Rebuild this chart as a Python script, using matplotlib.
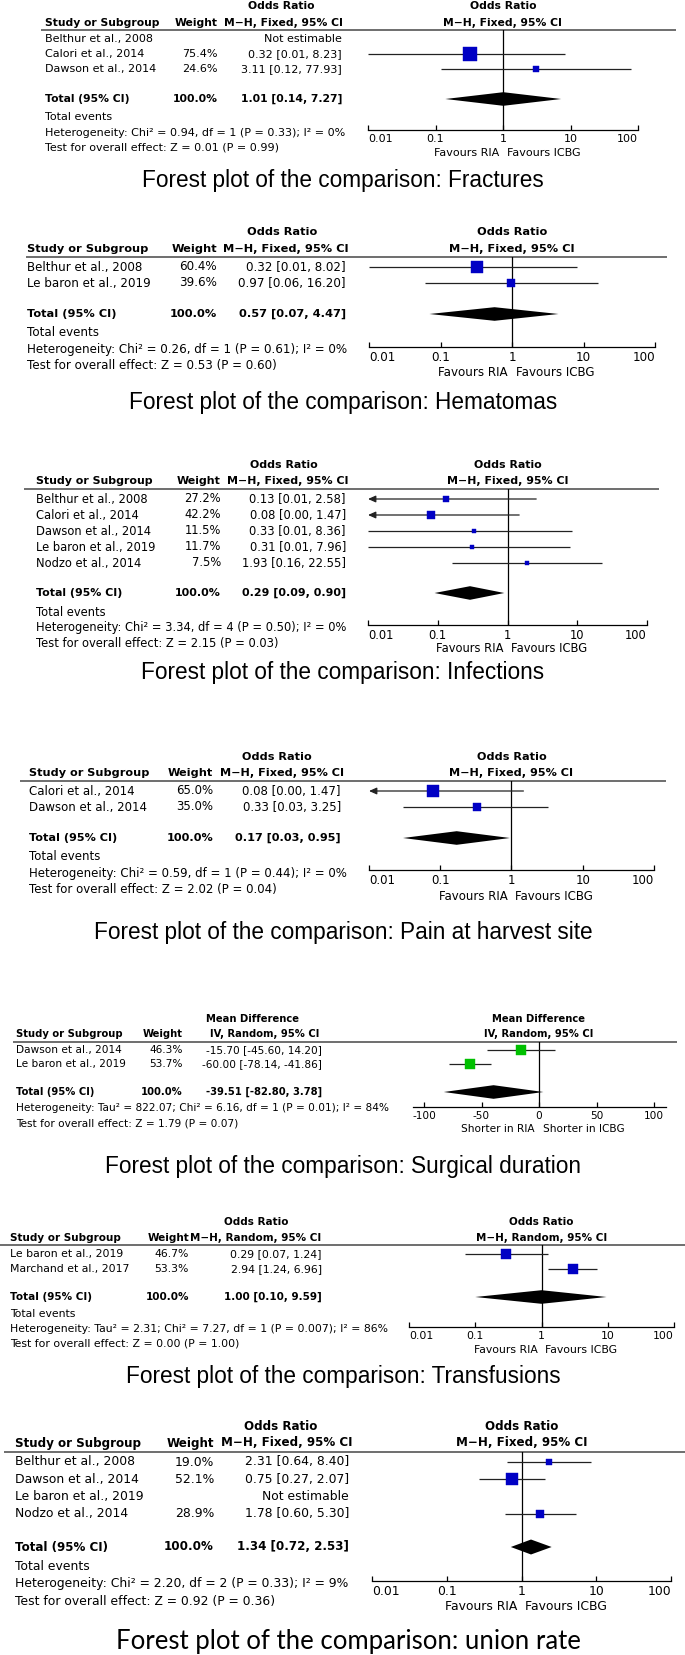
import matplotlib
matplotlib.use("Agg")
import matplotlib.pyplot as plt
from matplotlib.ticker import NullLocator

# ---------------- data ----------------
frac_studies = ["Belthur et al., 2008", "Calori et al., 2014", "Dawson et al., 2014"]
frac_weight = [None, 75.4, 24.6]
frac_est = [None, 0.32, 3.11]
frac_lo = [None, 0.01, 0.12]
frac_hi = [None, 8.23, 77.93]
frac_arrow = [False, False, False]
frac_total = [1.01, 0.14, 7.27]
frac_het = "Heterogeneity: Chi² = 0.94, df = 1 (P = 0.33); I² = 0%"
frac_test = "Test for overall effect: Z = 0.01 (P = 0.99)"

hema_studies = ["Belthur et al., 2008", "Le baron et al., 2019"]
hema_weight = [60.4, 39.6]
hema_est = [0.32, 0.97]
hema_lo = [0.01, 0.06]
hema_hi = [8.02, 16.20]
hema_arrow = [False, False]
hema_total = [0.57, 0.07, 4.47]
hema_het = "Heterogeneity: Chi² = 0.26, df = 1 (P = 0.61); I² = 0%"
hema_test = "Test for overall effect: Z = 0.53 (P = 0.60)"

infe_studies = ["Belthur et al., 2008", "Calori et al., 2014", "Dawson et al., 2014",
                "Le baron et al., 2019", "Nodzo et al., 2014"]
infe_weight = [27.2, 42.2, 11.5, 11.7, 7.5]
infe_est = [0.13, 0.08, 0.33, 0.31, 1.93]
infe_lo = [0.01, 0.00, 0.01, 0.01, 0.16]
infe_hi = [2.58, 1.47, 8.36, 7.96, 22.55]
infe_arrow = [True, True, False, False, False]
infe_total = [0.29, 0.09, 0.90]
infe_het = "Heterogeneity: Chi² = 3.34, df = 4 (P = 0.50); I² = 0%"
infe_test = "Test for overall effect: Z = 2.15 (P = 0.03)"

pain_studies = ["Calori et al., 2014", "Dawson et al., 2014"]
pain_weight = [65.0, 35.0]
pain_est = [0.08, 0.33]
pain_lo = [0.00, 0.03]
pain_hi = [1.47, 3.25]
pain_arrow = [True, False]
pain_total = [0.17, 0.03, 0.95]
pain_het = "Heterogeneity: Chi² = 0.59, df = 1 (P = 0.44); I² = 0%"
pain_test = "Test for overall effect: Z = 2.02 (P = 0.04)"

surg_studies = ["Dawson et al., 2014", "Le baron et al., 2019"]
surg_weight = [46.3, 53.7]
surg_est = [-15.70, -60.00]
surg_lo = [-45.60, -78.14]
surg_hi = [14.20, -41.86]
surg_arrow = [False, False]
surg_total = [-39.51, -82.80, 3.78]
surg_het = "Heterogeneity: Tau² = 822.07; Chi² = 6.16, df = 1 (P = 0.01); I² = 84%"
surg_test = "Test for overall effect: Z = 1.79 (P = 0.07)"

tran_studies = ["Le baron et al., 2019", "Marchand et al., 2017"]
tran_weight = [46.7, 53.3]
tran_est = [0.29, 2.94]
tran_lo = [0.07, 1.24]
tran_hi = [1.24, 6.96]
tran_arrow = [False, False]
tran_total = [1.00, 0.10, 9.59]
tran_het = "Heterogeneity: Tau² = 2.31; Chi² = 7.27, df = 1 (P = 0.007); I² = 86%"
tran_test = "Test for overall effect: Z = 0.00 (P = 1.00)"

unio_studies = ["Belthur et al., 2008", "Dawson et al., 2014", "Le baron et al., 2019", "Nodzo et al., 2014"]
unio_weight = [19.0, 52.1, None, 28.9]
unio_est = [2.31, 0.75, None, 1.78]
unio_lo = [0.64, 0.27, None, 0.60]
unio_hi = [8.40, 2.07, None, 5.30]
unio_arrow = [False, False, False, False]
unio_total = [1.34, 0.72, 2.53]
unio_het = "Heterogeneity: Chi² = 2.20, df = 2 (P = 0.33); I² = 9%"
unio_test = "Test for overall effect: Z = 0.92 (P = 0.36)"

or_ticks = [0.01, 0.1, 1, 10, 100]
or_ticklabels = ["0.01", "0.1", "1", "10", "100"]
md_ticks = [-100, -50, 0, 50, 100]
md_ticklabels = ["-100", "-50", "0", "50", "100"]
fav_or = ("Favours RIA", "Favours ICBG")
fav_md = ("Shorter in RIA", "Shorter in ICBG")
title_prefix = "Forest plot of the comparison: "
titles = ["Fractures", "Hematomas", "Infections", "Pain at harvest site",
          "Surgical duration", "Transfusions", "union rate"]

BLUE = "#0000c4"
GREEN = "#00c000"


def mk(studies, weight, est, lo, hi, arrow, total, het, test, measure, method, log, fav, color):
    return dict(studies=studies, weight=weight, est=est, lo=lo, hi=hi, arrow=arrow,
                total=total, het=het, test=test, measure=measure, method=method,
                log=log, fav=fav, color=color)


MHF = "M−H, Fixed, 95% CI"
MHR = "M−H, Random, 95% CI"
panels = [
    mk(frac_studies, frac_weight, frac_est, frac_lo, frac_hi, frac_arrow, frac_total, frac_het, frac_test,
       "Odds Ratio", MHF, True, fav_or, BLUE),
    mk(hema_studies, hema_weight, hema_est, hema_lo, hema_hi, hema_arrow, hema_total, hema_het, hema_test,
       "Odds Ratio", MHF, True, fav_or, BLUE),
    mk(infe_studies, infe_weight, infe_est, infe_lo, infe_hi, infe_arrow, infe_total, infe_het, infe_test,
       "Odds Ratio", MHF, True, fav_or, BLUE),
    mk(pain_studies, pain_weight, pain_est, pain_lo, pain_hi, pain_arrow, pain_total, pain_het, pain_test,
       "Odds Ratio", MHF, True, fav_or, BLUE),
    mk(surg_studies, surg_weight, surg_est, surg_lo, surg_hi, surg_arrow, surg_total, surg_het, surg_test,
       "Mean Difference", "IV, Random, 95% CI", False, fav_md, GREEN),
    mk(tran_studies, tran_weight, tran_est, tran_lo, tran_hi, tran_arrow, tran_total, tran_het, tran_test,
       "Odds Ratio", MHR, True, fav_or, BLUE),
    mk(unio_studies, unio_weight, unio_est, unio_lo, unio_hi, unio_arrow, unio_total, unio_het, unio_test,
       "Odds Ratio", MHF, True, fav_or, BLUE),
]

# ---------------- layout (pixels) ----------------
def lay(fs, xs, xw, xc, hc1, hc2, yh1, yh2, yl, lx, yr0, dr, yt, ye, yhet, ytest, ya, yfav, fx, ytitle,
        sq=1.0, tfs=16.3, tfam="Liberation Sans", xt=343):
    return dict(fs=fs, xs=xs, xw=xw, xc=xc, hc1=hc1, hc2=hc2, yh1=yh1, yh2=yh2, yl=yl, lx=lx, yr0=yr0,
                dr=dr, yt=yt, ye=ye, yhet=yhet, ytest=ytest, ya=ya, yfav=yfav, fx=fx, ytitle=ytitle,
                sq=sq, tfs=tfs, tfam=tfam, xt=xt)


layouts = [
    lay(8.05, 45, 218, 342, 281, 284, 6, 23, 30, (41, 676), 39, 15, 99, 117, 133, 147, 130, 153, (368, 638), 180),
    lay(8.55, 27, 217, 346, 282, 286, 232, 249, 257, (26, 667), 267, 16, 314, 333, 350, 366, 347, 372, (369, 655), 402),
    lay(8.3, 36, 221, 346, 284, 288, 465, 481, 489, (24, 659), 499, 16, 593, 612, 628, 643, 625, 648, (368, 647), 672),
    lay(8.45, 29, 213, 341, 277, 282, 757, 773, 781, (20, 666), 791, 16, 838, 857, 873, 889, 870, 897, (369, 654), 932),
    lay(7.55, 16, 183, 322, 253, 265, 1019, 1034, 1042, (13, 677), 1050, 14, 1092, None, 1108, 1123, 1107, 1129,
        (412.5, 665.5), 1167),
    lay(7.8, 10, 189, 322, 256, 256, 1222, 1238, 1245, (0, 685), 1254, 15, 1297, 1314, 1329, 1343, 1327, 1350,
        (409, 674), 1377),
    lay(8.9, 15, 214, 349, 281, 287, 1426, 1443, 1452, (4, 685), 1462, 17.3, 1547, 1566, 1583, 1601, 1581, 1607,
        (372, 671), 1642, sq=1.1, tfs=18.5, tfam="Lato", xt=348),
]

BOLD_SCALE = 0.96

W, H = 685, 1655
fig = plt.figure(figsize=(W / 100, H / 100), dpi=100)
fig.patch.set_facecolor("white")
bg = fig.add_axes([0, 0, 1, 1])
bg.set_xlim(0, W)
bg.set_ylim(H, 0)
bg.axis("off")


def draw(P, L, title):
    fs = L["fs"]
    T = dict(fontsize=fs, family="DejaVu Sans", va="center", color="black")
    B = dict(T, weight="bold", fontsize=fs * BOLD_SCALE)
    fx0, fx1 = L["fx"]
    fmid = (fx0 + fx1) / 2
    bg.text(L["hc1"], L["yh1"], P["measure"], ha="center", **B)
    bg.text(fmid, L["yh1"], P["measure"], ha="center", **B)
    bg.text(L["xs"], L["yh2"], "Study or Subgroup", ha="left", **B)
    bg.text(L["xw"], L["yh2"], "Weight", ha="right", **B)
    bg.text(L["hc2"], L["yh2"], P["method"], ha="center", **B)
    bg.text(fmid, L["yh2"], P["method"], ha="center", **B)
    bg.plot(L["lx"], [L["yl"], L["yl"]], color="#555555", lw=1.2, solid_capstyle="butt")

    ya, yl = L["ya"], L["yl"]
    ax = fig.add_axes([fx0 / W, 1 - ya / H, (fx1 - fx0) / W, (ya - yl) / H])
    ax.patch.set_visible(False)
    if P["log"]:
        ax.set_xscale("log")
        ax.set_xlim(0.01, 100)
        ax.set_xticks(or_ticks)
        ax.set_xticklabels(or_ticklabels)
        ref = 1
    else:
        ax.set_xlim(-110, 110)
        ax.set_xticks(md_ticks)
        ax.set_xticklabels(md_ticklabels)
        ref = 0
    ax.xaxis.set_minor_locator(NullLocator())
    ax.set_ylim(ya, yl)
    ax.set_yticks([])
    for s in ["top", "left", "right"]:
        ax.spines[s].set_visible(False)
    ax.spines["bottom"].set_linewidth(0.9)
    ax.tick_params(axis="x", direction="in", length=3.5, width=0.9, pad=3, labelsize=fs)
    for lab in ax.get_xticklabels():
        lab.set_family("DejaVu Sans")
    if P["log"]:
        labs = ax.get_xticklabels()
        labs[0].set_ha("left")
        labs[-1].set_ha("right")
    ax.axvline(ref, color="black", lw=0.9)
    xmin = ax.get_xlim()[0]

    for i, name in enumerate(P["studies"]):
        y = L["yr0"] + i * L["dr"]
        bg.text(L["xs"], y, name, ha="left", **T)
        w = P["weight"][i]
        if w is None:
            bg.text(L["xc"], y, "Not estimable", ha="right", **T)
            continue
        e, lo, hi = P["est"][i], P["lo"][i], P["hi"][i]
        bg.text(L["xw"], y, f"{w:.1f}%", ha="right", **T)
        bg.text(L["xc"], y, f"{e:.2f} [{lo:.2f}, {hi:.2f}]", ha="right", **T)
        if P["arrow"][i]:
            ax.annotate("", xy=(xmin, y), xytext=(hi, y), annotation_clip=False,
                        arrowprops=dict(arrowstyle="-|>,head_length=0.45,head_width=0.2",
                                        color="#222222", lw=0.9, shrinkA=0, shrinkB=0))
        else:
            ax.plot([lo, hi], [y, y], color="#222222", lw=0.9, solid_capstyle="butt")
        size = (2 + 0.155 * w) * L["sq"] * 0.72
        ax.plot([e], [y], marker="s", ms=size, color=P["color"], mec=P["color"],
                mew=0.3, ls="none", zorder=3, clip_on=False)

    yt = L["yt"]
    te, tlo, thi = P["total"]
    bg.text(L["xs"], yt, "Total (95% CI)", ha="left", **B)
    bg.text(L["xw"], yt, "100.0%", ha="right", **B)
    bg.text(L["xc"], yt, f"{te:.2f} [{tlo:.2f}, {thi:.2f}]", ha="right", **B)
    h = 6.8 * L["sq"]
    ax.fill([tlo, te, thi, te], [yt, yt - h, yt, yt + h], color="black", lw=0, zorder=3)

    if L["ye"] is not None:
        bg.text(L["xs"], L["ye"], "Total events", ha="left", **T)
    bg.text(L["xs"], L["yhet"], P["het"], ha="left", **T)
    bg.text(L["xs"], L["ytest"], P["test"], ha="left", **T)
    bg.text(fmid - 4, L["yfav"], P["fav"][0], ha="right", **T)
    bg.text(fmid + 4, L["yfav"], P["fav"][1], ha="left", **T)

    bg.text(L["xt"], L["ytitle"], title_prefix + title, ha="center", va="center",
            fontsize=L["tfs"], family=L["tfam"], color="black")


for P, L, t in zip(panels, layouts, titles):
    draw(P, L, t)

fig.savefig("out.png", dpi=100, facecolor="white")
